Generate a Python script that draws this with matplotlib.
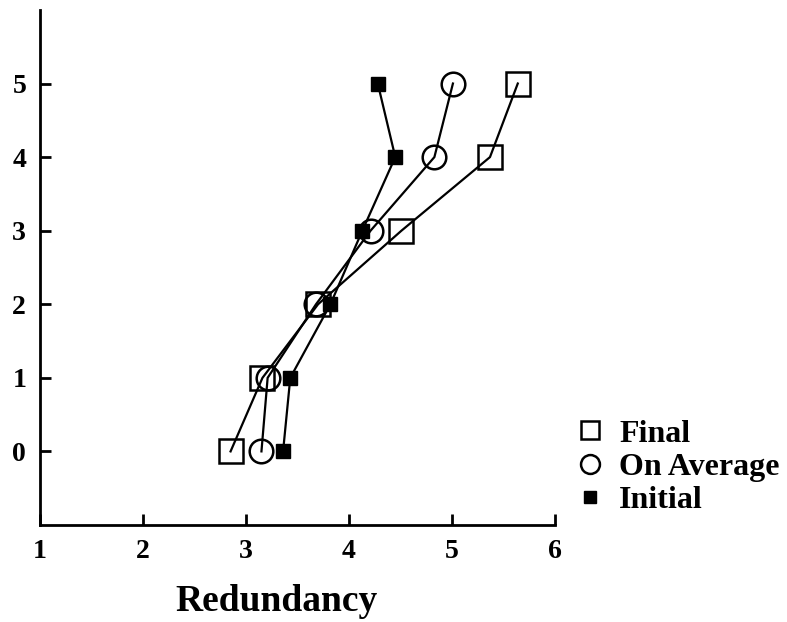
import matplotlib
matplotlib.use('Agg')
import matplotlib.pyplot as plt

plt.rcParams['font.family'] = ['Liberation Serif', 'DejaVu Serif']
plt.rcParams['font.weight'] = 'bold'

levels = [0, 1, 2, 3, 4, 5]
final_red = [2.85, 3.16, 3.70, 4.51, 5.37, 5.64]
average_red = [3.15, 3.21, 3.68, 4.21, 4.83, 5.01]
initial_red = [3.36, 3.43, 3.82, 4.13, 4.45, 4.28]
x_ticks = [1, 2, 3, 4, 5, 6]
y_ticks = [0, 1, 2, 3, 4, 5]

fig = plt.figure(figsize=(7.87, 6.22), dpi=100)
ax = fig.add_axes([0.051, 0.156, 0.654, 0.828])

ax.plot(final_red, levels, color='black', lw=1.6, marker='s', ms=17,
        mfc='none', mec='black', mew=1.8, label='Final', zorder=3)
ax.plot(average_red, levels, color='black', lw=1.6, marker='o', ms=17,
        mfc='none', mec='black', mew=1.8, label='On Average', zorder=3)
ax.plot(initial_red, levels, color='black', lw=1.6, marker='s', ms=10,
        mfc='black', mec='black', label='Initial', zorder=3)

ax.set_xlim(1, 6)
ax.set_ylim(-1, 6)
ax.set_xticks(x_ticks)
ax.set_yticks(y_ticks)
for s in ['top', 'right']:
    ax.spines[s].set_visible(False)
for s in ['left', 'bottom']:
    ax.spines[s].set_linewidth(2)
ax.tick_params(direction='in', length=8, width=2, labelsize=20, pad=10)
for lbl in ax.get_xticklabels() + ax.get_yticklabels():
    lbl.set_fontweight('bold')

ax.set_xlabel('Redundancy', fontsize=27, fontweight='bold')
ax.xaxis.set_label_coords(0.46, -0.115)

leg = fig.legend(loc='upper left', bbox_to_anchor=(0.738, 0.326), frameon=False,
                 borderpad=0, borderaxespad=0,
                 handlelength=0.6, handletextpad=0.6, labelspacing=0.12,
                 markerscale=0.8, prop={'weight': 'bold', 'size': 23})
for h in leg.get_lines():
    h.set_linestyle('none')

fig.savefig('out.png', dpi=100)
